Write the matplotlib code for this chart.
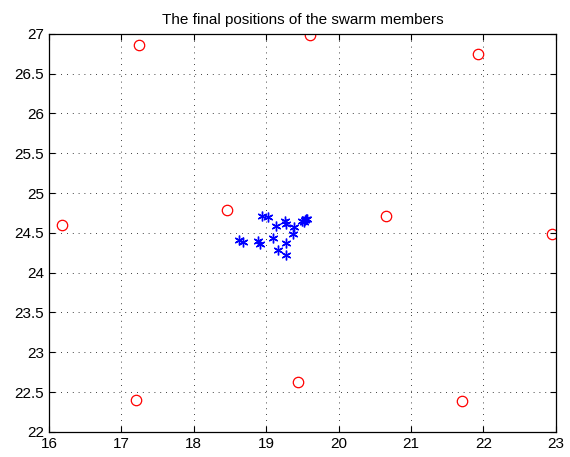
import matplotlib.pyplot as plt
from matplotlib.ticker import FuncFormatter

# swarm members (blue asterisks)
member_x = [18.94, 19.03, 19.13, 19.26, 19.28, 19.38, 19.37,
            19.50, 19.52, 19.54, 19.55, 19.57,
            18.62, 18.68, 18.88, 18.91, 19.09, 19.28, 19.17, 19.28]
member_y = [24.71, 24.70, 24.59, 24.65, 24.61, 24.57, 24.49,
            24.65, 24.64, 24.66, 24.67, 24.67,
            24.41, 24.38, 24.40, 24.36, 24.44, 24.37, 24.29, 24.22]

# other points (red circles)
target_x = [17.24, 19.60, 21.92, 16.18, 18.46, 20.66, 22.95, 17.20, 19.44, 21.70]
target_y = [26.86, 26.99, 26.75, 24.60, 24.79, 24.71, 24.49, 22.40, 22.63, 22.39]

plt.rcParams['font.family'] = ['Liberation Sans', 'DejaVu Sans']

fig = plt.figure(figsize=(5.7, 4.57), dpi=100)
ax = fig.add_axes([0.086, 0.055, 0.889, 0.871])

ax.plot(target_x, target_y, 'o', mfc='none', mec='red', ms=7.5, mew=0.9)
ax.plot(member_x, member_y, ls='none', marker=(6, 2, 0), color='blue',
        ms=7, mew=1.0)

ax.set_xlim(16, 23)
ax.set_ylim(22, 27)
ax.set_xticks(range(16, 24))
ax.set_yticks([22 + 0.5 * i for i in range(11)])
ax.xaxis.set_major_formatter(FuncFormatter(lambda v, p: '%g' % v))
ax.yaxis.set_major_formatter(FuncFormatter(lambda v, p: '%g' % v))

ax.grid(True, color='black', linestyle=(0, (1, 6)), linewidth=0.6)
ax.tick_params(direction='in', top=True, right=True, length=4,
               labelsize=11, width=0.8)
for s in ax.spines.values():
    s.set_linewidth(0.9)

ax.set_title("The final positions of the swarm members", fontsize=11, pad=7)

fig.savefig("out.png", dpi=100)
